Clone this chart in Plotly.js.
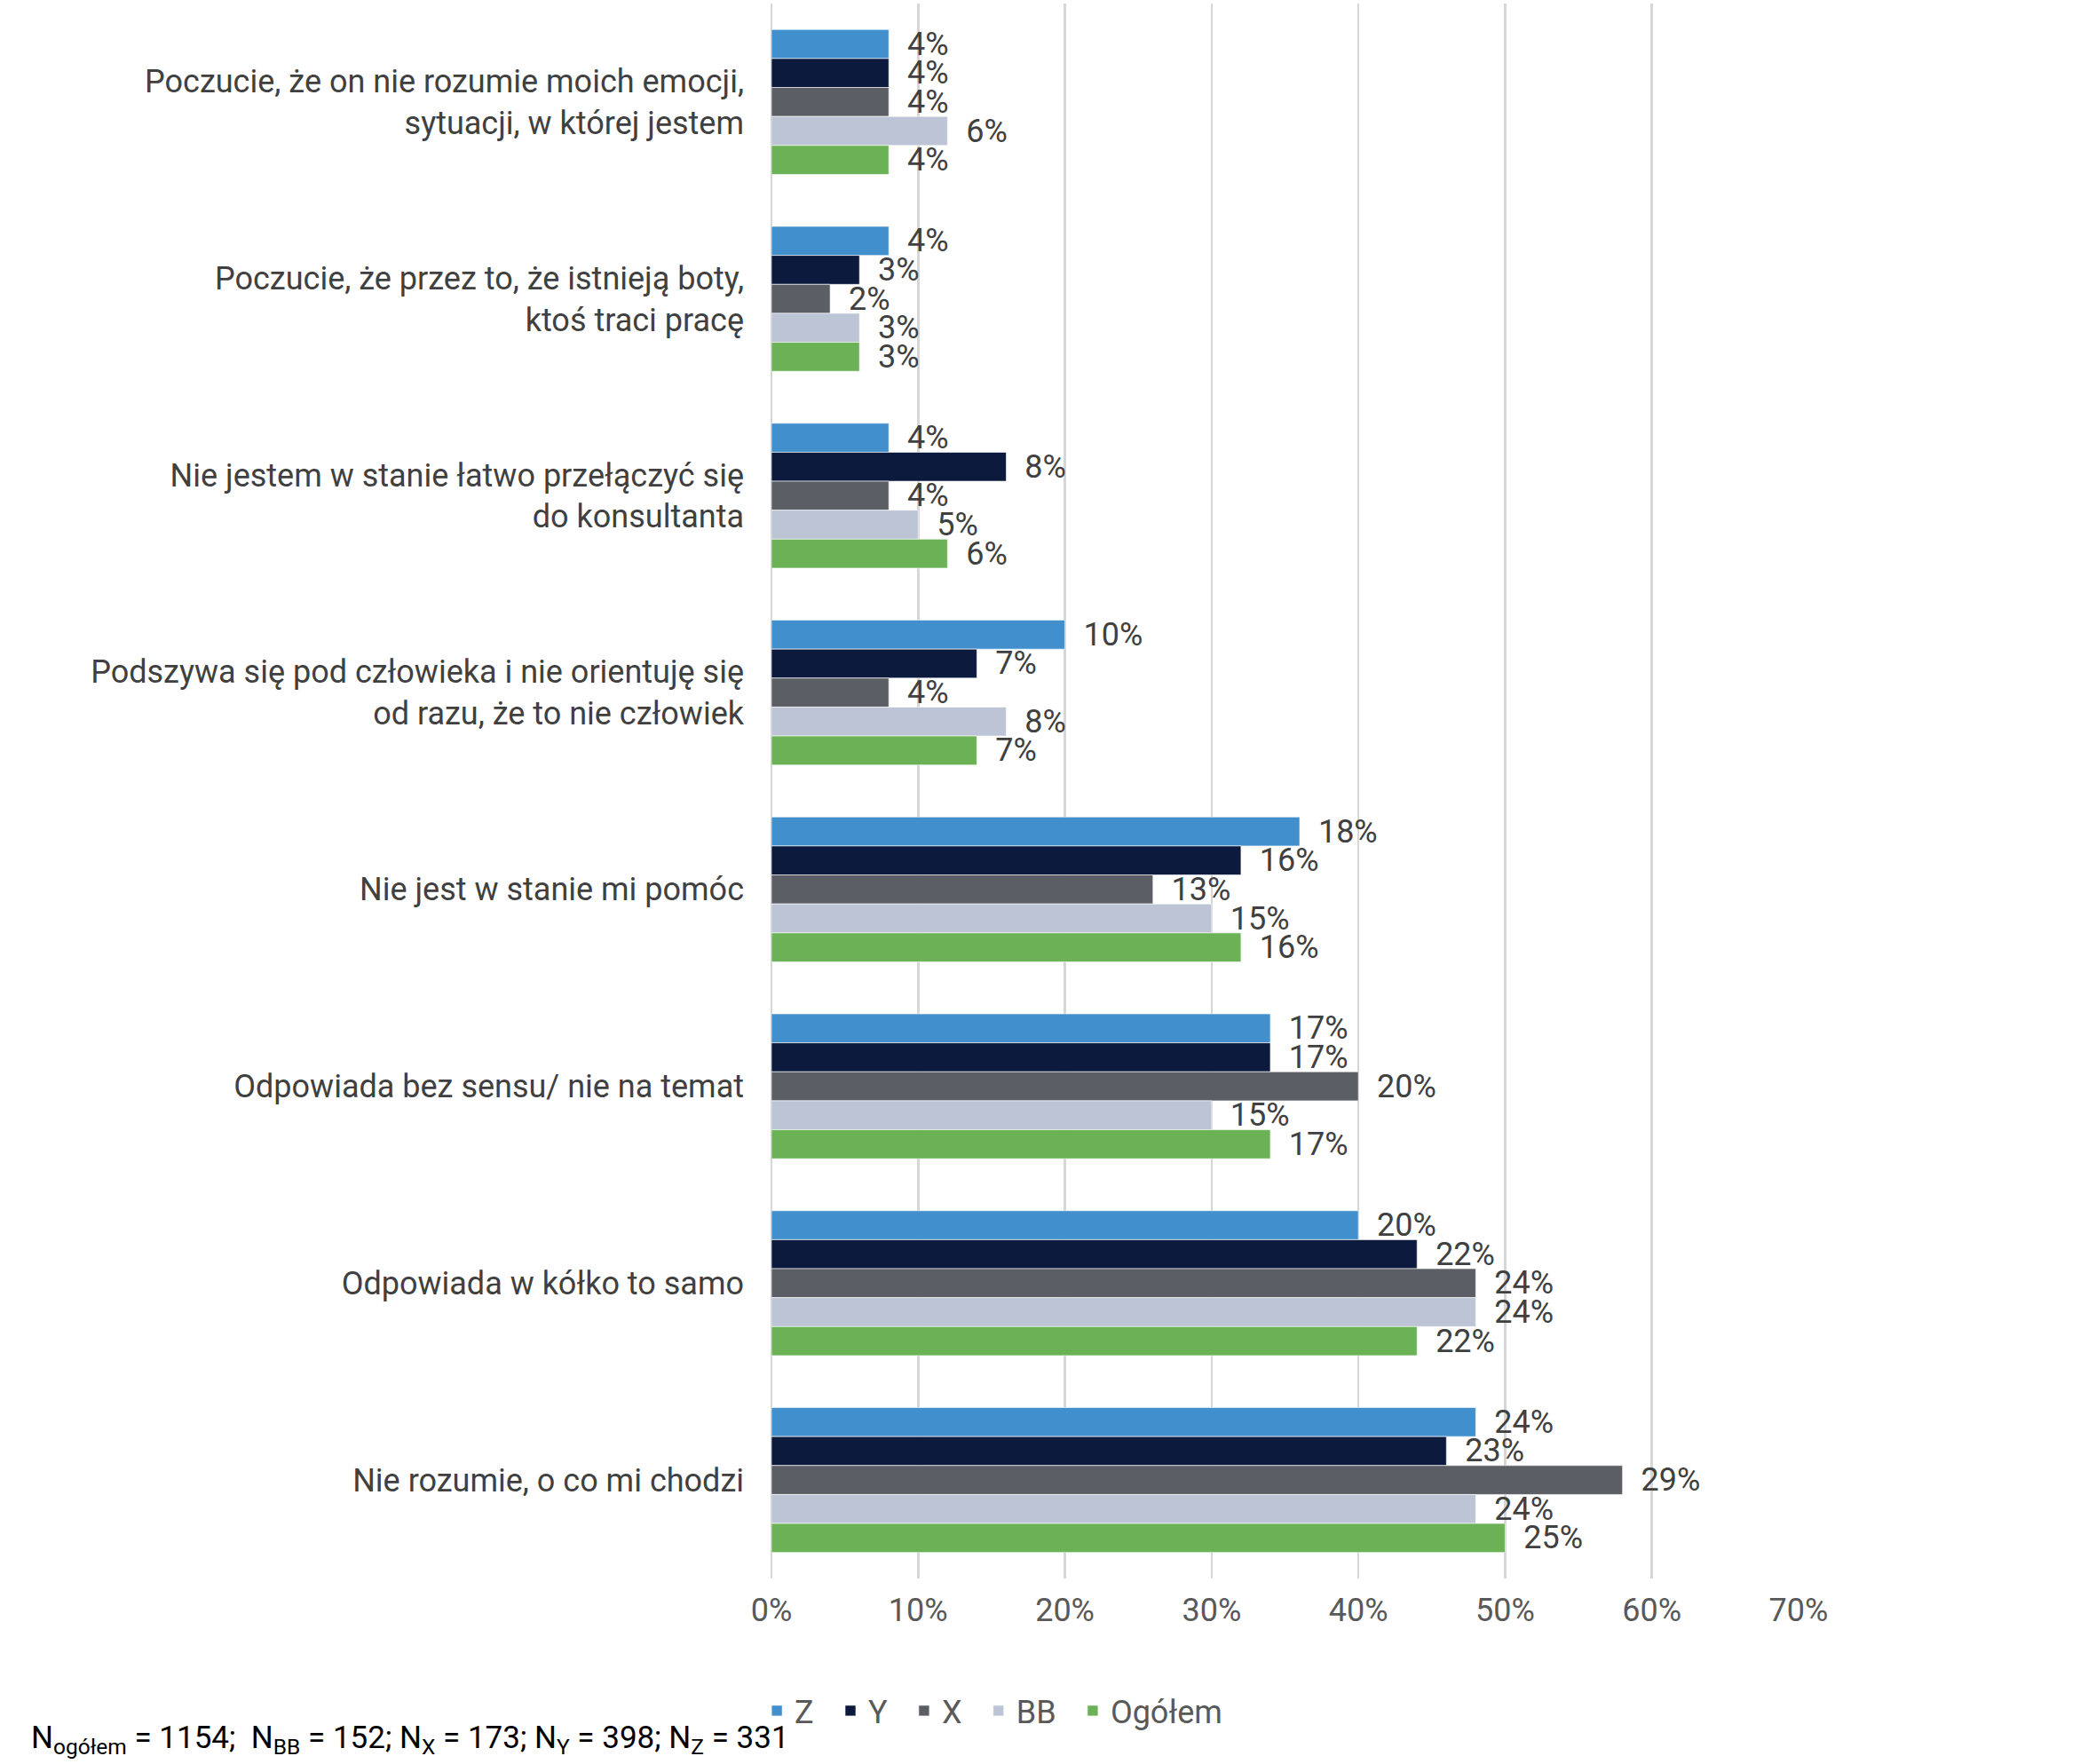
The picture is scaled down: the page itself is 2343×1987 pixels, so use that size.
<!DOCTYPE html>
<html>
<head>
<meta charset="utf-8">
<script src="https://cdn.plot.ly/plotly-3.0.1.min.js"></script>
<style>
html,body{margin:0;padding:0;background:#fff;}
#chart{width:2343px;height:1987px;}
</style>
</head>
<body>
<div id="chart"></div>
<script>
var categories = [
  "Poczucie, że on nie rozumie moich emocji,<br>sytuacji, w której jestem",
  "Poczucie, że przez to, że istnieją boty,<br>ktoś traci pracę",
  "Nie jestem w stanie łatwo przełączyć się<br>do konsultanta",
  "Podszywa się pod człowieka i nie orientuję się<br>od razu, że to nie człowiek",
  "Nie jest w stanie mi pomóc",
  "Odpowiada bez sensu/ nie na temat",
  "Odpowiada w kółko to samo",
  "Nie rozumie, o co mi chodzi"
];
var seriesNames = ["Z", "Y", "X", "BB", "Ogółem"];
var valuesZ      = [4, 4, 4, 10, 18, 17, 20, 24];
var valuesY      = [4, 3, 8, 7, 16, 17, 22, 23];
var valuesX      = [4, 2, 4, 4, 13, 20, 24, 29];
var valuesBB     = [6, 3, 5, 8, 15, 15, 24, 24];
var valuesOgolem = [4, 3, 6, 7, 16, 17, 22, 25];
var tickValues = [0, 5, 10, 15, 20, 25, 30, 35];
var tickLabels = ["0%", "10%", "20%", "30%", "40%", "50%", "60%", "70%"];
var colors = ["#418FCD", "#0B1A3D", "#5B5E65", "#BCC4D5", "#6BB257"];
var footnote = "N<sub>ogółem</sub> = 1154;  N<sub>BB</sub> = 152; N<sub>X</sub> = 173; N<sub>Y</sub> = 398; N<sub>Z</sub> = 331";

var allValues = [valuesZ, valuesY, valuesX, valuesBB, valuesOgolem];
var FONT = "Roboto, 'Open Sans', sans-serif";

var traces = allValues.map(function(vals, i){
  return {
    type: "bar",
    orientation: "h",
    name: seriesNames[i] + "\u00A0\u2009",
    y: categories,
    x: vals,
    text: vals.map(function(v){ return "\u00A0\u00A0" + v + "%"; }),
    textposition: "outside",
    constraintext: "none",
    cliponaxis: false,
    textfont: {family: FONT, size: 36, color: "#404040"},
    marker: {color: colors[i], line: {color: "rgba(255,255,255,0.6)", width: 1}},
    hoverinfo: "x+y+name"
  };
});

var layout = {
  width: 2343,
  height: 1987,
  paper_bgcolor: "#ffffff",
  plot_bgcolor: "#ffffff",
  margin: {l: 869, r: 317, t: 4, b: 209, pad: 0},
  barmode: "group",
  bargap: 0.264,
  bargroupgap: 0,
  font: {family: FONT, size: 36, color: "#404040"},
  showlegend: true,
  legend: {
    orientation: "h",
    traceorder: "normal",
    x: -0.012, xanchor: "left",
    y: -0.084, yanchor: "middle",
    font: {family: FONT, size: 36, color: "#595959"},
    itemwidth: 30,
    tracegroupgap: 0
  },
  xaxis: {
    range: [0, 35],
    tickvals: tickValues,
    ticktext: tickLabels,
    showgrid: true,
    gridcolor: "#D6D6D6",
    gridwidth: 2.5,
    zeroline: true,
    zerolinecolor: "#D6D6D6",
    zerolinewidth: 2.5,
    showline: false,
    ticks: "",
    ticklabelstandoff: 11,
    tickfont: {family: FONT, size: 36, color: "#595959"},
    fixedrange: true
  },
  yaxis: {
    type: "category",
    autorange: "reversed",
    showgrid: false,
    zeroline: false,
    showline: false,
    ticks: "",
    ticklabelstandoff: 30,
    tickfont: {family: FONT, size: 36, color: "#404040"},
    fixedrange: true
  },
  annotations: [{
    xref: "paper", yref: "paper",
    x: -0.7226, xanchor: "left",
    y: -0.1025, yanchor: "middle",
    text: footnote,
    showarrow: false,
    align: "left",
    font: {family: FONT, size: 35, color: "#000000"}
  }]
};

Plotly.newPlot("chart", traces, layout, {displayModeBar: false, staticPlot: true});
</script>
</body>
</html>
